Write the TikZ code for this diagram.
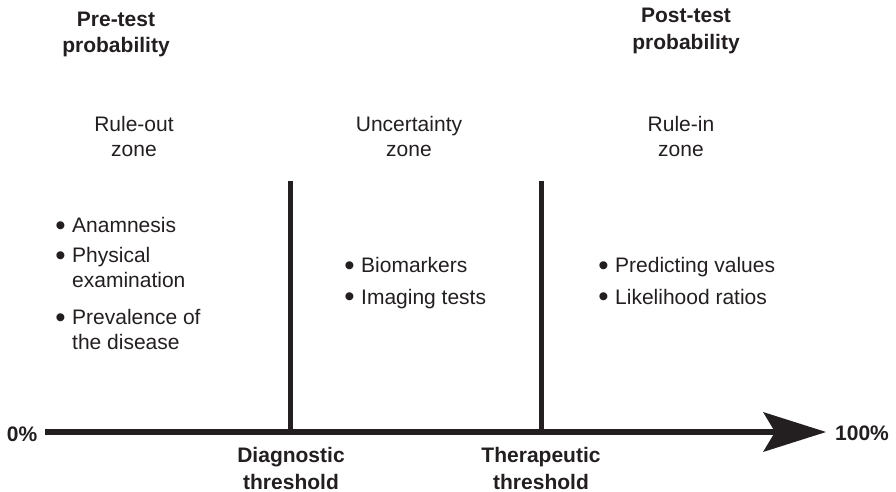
\documentclass[tikz,border=0pt]{standalone}
\usepackage{fontspec}
\usepackage{graphicx}
\setmainfont{Liberation Sans}
\usetikzlibrary{arrows.meta}
\definecolor{ink}{RGB}{35,31,32}
\tikzset{
  lbl/.style={text=ink, inner sep=0pt, font=\fontsize{21}{26.5}\selectfont, align=center, anchor=base},
  head/.style={lbl, font=\fontsize{21}{26.5}\selectfont\bfseries},
  zone/.style={lbl, font=\fontsize{21}{25}\selectfont},
  item/.style={text=ink, inner sep=0pt, font=\fontsize{21}{25}\selectfont, align=left, anchor=base west},
  threshline/.style={draw=ink, line width=5pt},
  axis/.style={draw=ink, line width=6pt,
    -{Stealth[length=63pt, width=40pt, inset=12pt, line width=0pt]}},
}
% bullet a little larger than the font's own
\newcommand{\bul}{\llap{\raisebox{-2.5pt}{\scalebox{1.4}{\textbullet}}\hspace{6.5pt}}}
\begin{document}
\begin{tikzpicture}[x=1pt, y=-1pt]
  \useasboundingbox (0,0) rectangle (896,492);

  % column headers (anchor = baseline of the last line)
  \node[head] (pre)  at (116,53)   {Pre-test\\probability};
  \node[head] (post) at (686,49.5) {Post-test\\probability};

  % zone titles
  \node[zone] (ruleout) at (134,156.5) {Rule-out\\zone};
  \node[zone] (uncert)  at (409,156.5) {Uncertainty\\zone};
  \node[zone] (rulein)  at (681,156.5) {Rule-in\\zone};

  % threshold lines
  \coordinate (dtop)  at (290,181);
  \coordinate (dfoot) at (290,432);
  \coordinate (ttop)  at (541,181);
  \coordinate (tfoot) at (541,432);
  \draw[threshline] (dtop) -- (dfoot);
  \draw[threshline] (ttop) -- (tfoot);

  % probability axis
  \coordinate (zero) at (45,432);
  \coordinate (full) at (826,432);
  \draw[axis] (zero) -- (full);

  \node[head] (p0)   at (22,441)  {0\%};
  \node[head] (p100) at (862,440) {100\%};

  \node[head] (diag) at (291,489) {Diagnostic\\threshold};
  \node[head] (ther) at (541,489) {Therapeutic\\threshold};

  % rule-out zone items
  \node[item] (i1) at (72,232.5) {\bul Anamnesis};
  \node[item] (i2) at (72,287.5) {\bul Physical\\examination};
  \node[item] (i3) at (72,349.5) {\bul Prevalence of\\the disease};

  % uncertainty zone items
  \node[item] (i4) at (361,272.5) {\bul Biomarkers};
  \node[item] (i5) at (361,304)   {\bul Imaging tests};

  % rule-in zone items
  \node[item] (i6) at (615,272.5) {\bul Predicting values};
  \node[item] (i7) at (615,304)   {\bul Likelihood ratios};
\end{tikzpicture}
\end{document}
